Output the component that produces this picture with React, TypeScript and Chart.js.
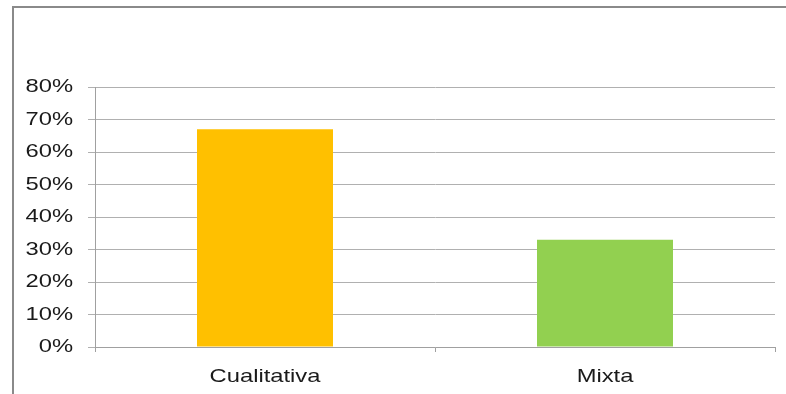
import React, { useEffect, useRef } from "react";
import { Chart, registerables } from "chart.js";

Chart.register(...registerables);

const categories = ["Cualitativa", "Mixta"];
const values = [67, 33];
const barColors = ["#FFC000", "#92D050"];
const yTicks = [0, 10, 20, 30, 40, 50, 60, 70, 80];

const FONT = "19px 'Liberation Sans', Arial, sans-serif";
const STRETCH = 1.25;

const stretchedLabels = {
  id: "stretchedLabels",
  afterDraw(chart: any) {
    const ctx = chart.ctx as CanvasRenderingContext2D;
    const xs = chart.scales.x;
    const ys = chart.scales.y;
    ctx.save();
    ctx.fillStyle = "#1a1a1a";
    ctx.font = FONT;
    // y labels
    ctx.textAlign = "right";
    ctx.textBaseline = "middle";
    ys.ticks.forEach((t: any) => {
      const y = ys.getPixelForValue(t.value);
      ctx.save();
      ctx.translate(ys.right - 22, y);
      ctx.scale(STRETCH, 1);
      ctx.fillText(t.value + "%", 0, 0);
      ctx.restore();
    });
    // x labels
    ctx.textAlign = "center";
    ctx.textBaseline = "alphabetic";
    categories.forEach((c, i) => {
      const x = xs.getPixelForValue(i);
      ctx.save();
      ctx.translate(x, xs.top + 35);
      ctx.scale(STRETCH, 1);
      ctx.fillText(c, 0, 0);
      ctx.restore();
    });
    ctx.restore();
  },
};

export default function App() {
  const ref = useRef<HTMLCanvasElement | null>(null);

  useEffect(() => {
    if (!ref.current) return;
    const chart = new Chart(ref.current, {
      type: "bar",
      data: {
        labels: categories,
        datasets: [
          {
            data: values,
            backgroundColor: barColors,
            borderWidth: 0,
            categoryPercentage: 1,
            barPercentage: 0.4,
          },
        ],
      },
      plugins: [stretchedLabels],
      options: {
        animation: false,
        responsive: true,
        maintainAspectRatio: false,
        layout: { padding: { left: 0, right: 11, top: 87, bottom: 0 } },
        plugins: { legend: { display: false }, tooltip: { enabled: false } },
        scales: {
          x: {
            offset: true,
            grid: {
              offset: true,
              drawOnChartArea: false,
              drawTicks: true,
              tickLength: 5,
              color: "#a0a0a0",
              lineWidth: 1,
            },
            border: { display: true, color: "#a0a0a0", width: 1 },
            ticks: { display: false },
            afterFit: (s: any) => {
              s.height = 47;
            },
          },
          y: {
            min: 0,
            max: 80,
            afterBuildTicks: (s: any) => {
              s.ticks = yTicks.map((v) => ({ value: v }));
            },
            grid: {
              color: "#b0b0b0",
              lineWidth: 1,
              drawTicks: true,
              tickLength: 7,
            },
            border: { display: true, color: "#a0a0a0", width: 1 },
            ticks: { display: false },
            afterFit: (s: any) => {
              s.width = 95;
            },
          },
        },
      },
    });
    return () => chart.destroy();
  }, []);

  return (
    <div style={{ position: "absolute", left: 0, top: 0, width: 786, height: 394, background: "#fff" }}>
      <div
        style={{
          position: "absolute",
          left: 12,
          top: 6,
          right: 0,
          bottom: 0,
          borderLeft: "2px solid #8a8a8a",
          borderTop: "2px solid #8a8a8a",
        }}
      />
      <canvas ref={ref} style={{ position: "absolute", left: 0, top: 0, width: 786, height: 394 }} />
    </div>
  );
}
